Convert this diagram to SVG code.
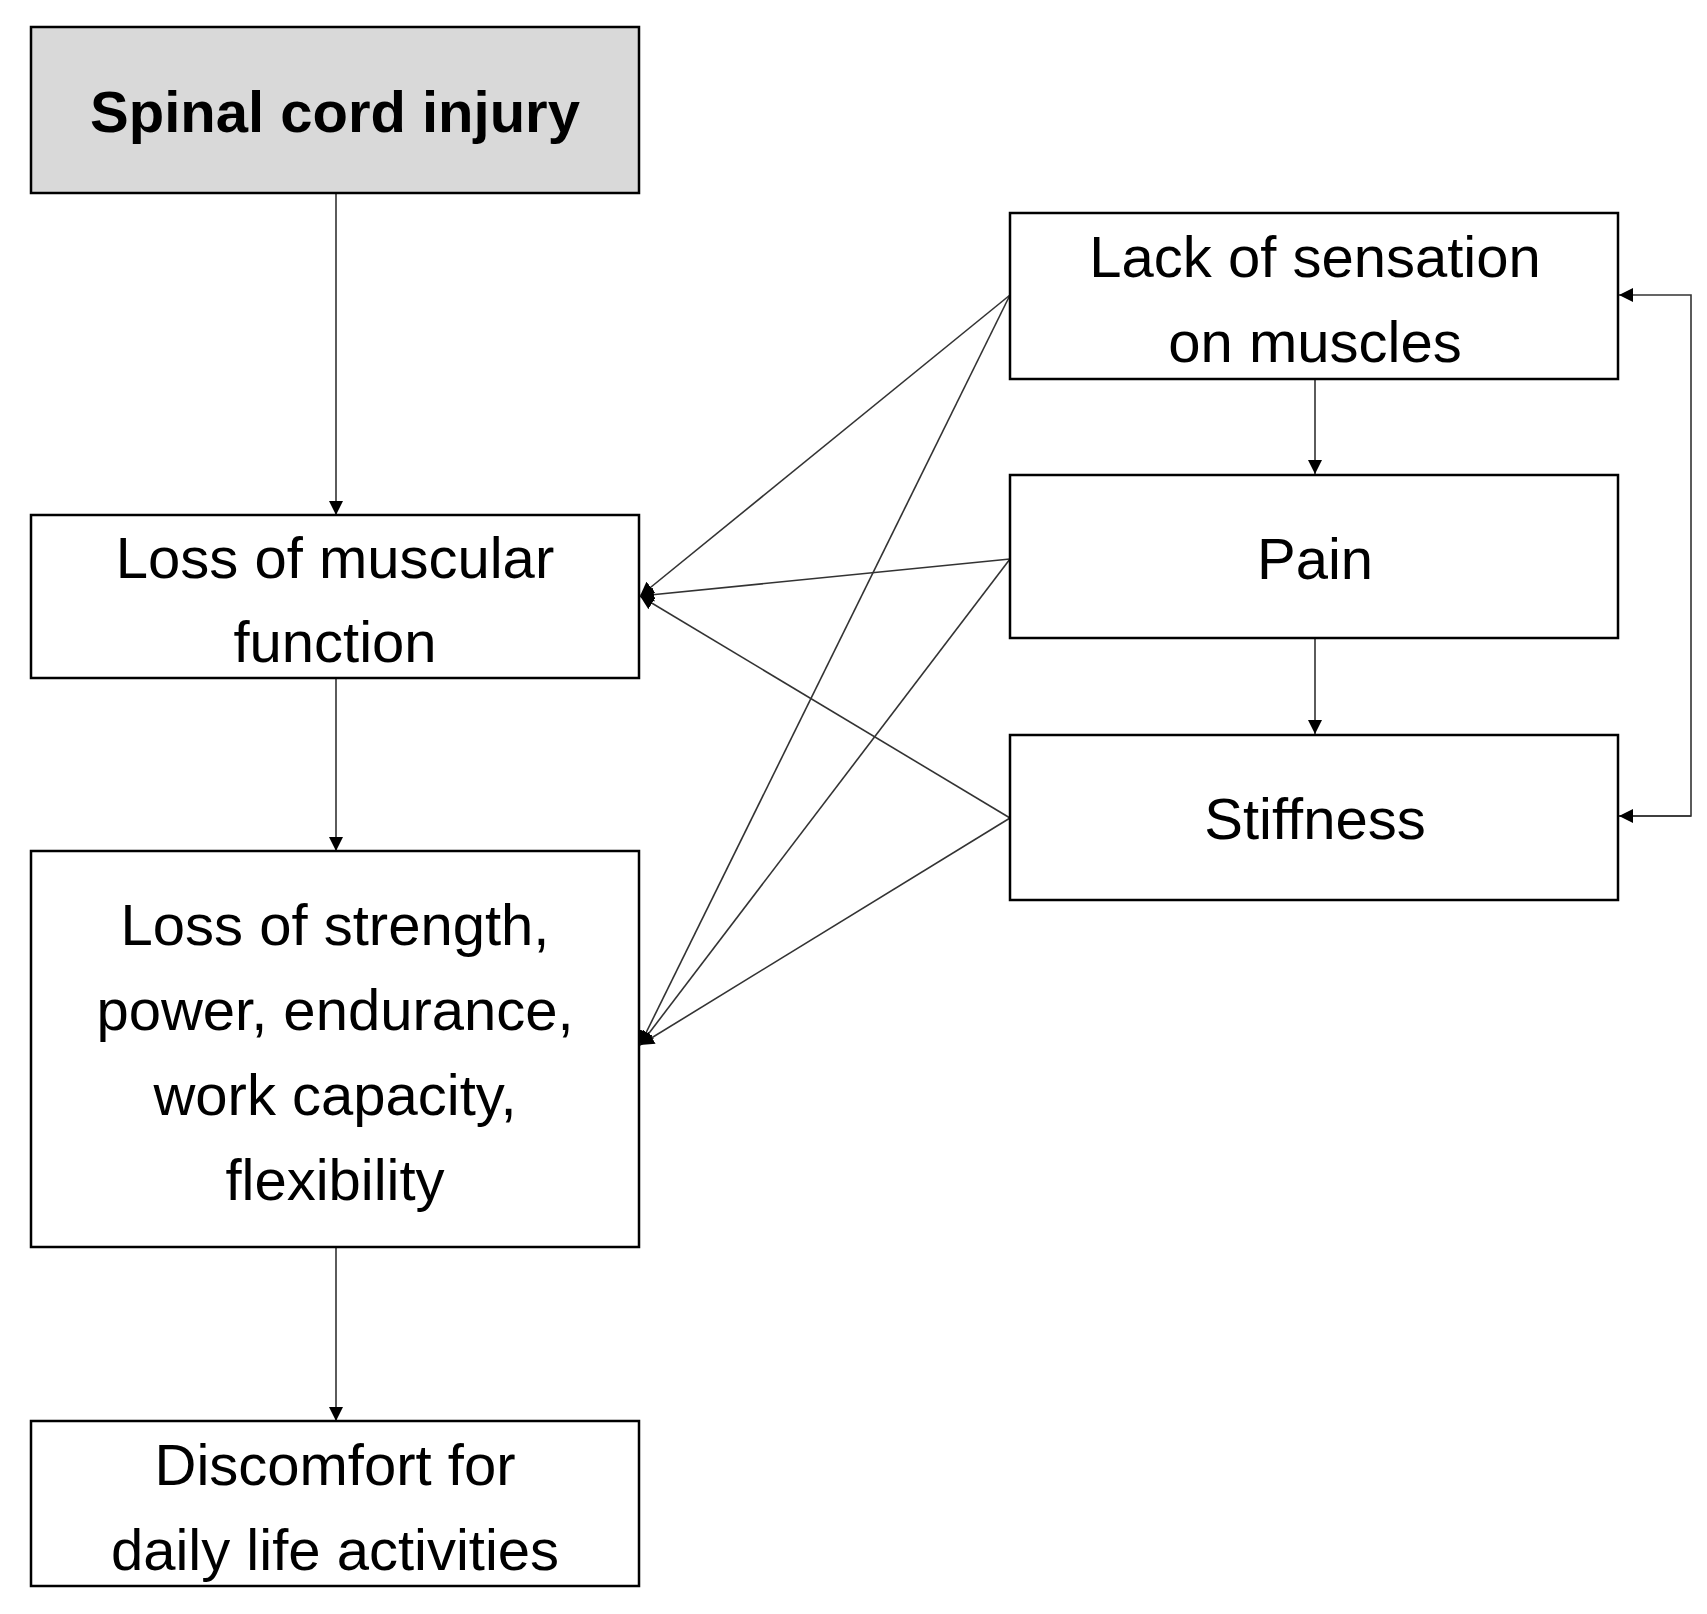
<svg xmlns="http://www.w3.org/2000/svg" width="1707" height="1614" viewBox="0 0 1707 1614">
<style>
.b{fill:#fff;stroke:#000;stroke-width:2.5}
.t{font-family:"Liberation Sans",Arial,sans-serif;font-size:58px;text-anchor:middle;fill:#000}
.c{stroke:#333;stroke-width:1.6;fill:none}
</style>
<defs>
<marker id="a" viewBox="0 0 10 10" refX="10" refY="5" markerWidth="8" markerHeight="8" markerUnits="userSpaceOnUse" orient="auto-start-reverse"><path d="M0,0L10,5L0,10z" fill="#000"/></marker>
<marker id="a2" viewBox="0 0 10 10" refX="10" refY="5" markerWidth="14" markerHeight="14" markerUnits="userSpaceOnUse" orient="auto"><path d="M0,0L10,5L0,10z" fill="#000"/></marker>
</defs>
<rect width="1707" height="1614" fill="#fff"/>
<g id="connectors">
<path class="c" d="M336,193V515" marker-end="url(#a2)"/>
<path class="c" d="M336,678V851" marker-end="url(#a2)"/>
<path class="c" d="M336,1247V1421" marker-end="url(#a2)"/>
<path class="c" d="M1315,380V474" marker-start="url(#a2)" marker-end="url(#a2)"/>
<path class="c" d="M1315,639V734" marker-start="url(#a2)" marker-end="url(#a2)"/>
<path class="c" d="M1618,816H1691V295H1619" marker-end="url(#a2)"/>
<path class="c" d="M1691,816H1619" marker-end="url(#a2)"/>
<path class="c" d="M1010,295L640,596" marker-end="url(#a2)"/>
<path class="c" d="M1010,559L640,596" marker-end="url(#a2)"/>
<path class="c" d="M1010,818L640,596" marker-end="url(#a2)"/>
<path class="c" d="M1010,295L640,1045" marker-end="url(#a2)"/>
<path class="c" d="M1010,559L640,1045" marker-end="url(#a2)"/>
<path class="c" d="M1010,818L640,1045" marker-end="url(#a2)"/>
</g>
<g id="sci"><rect class="b" x="31" y="27" width="608" height="166" style="fill:#d9d9d9"/><text class="t" x="335" y="132" font-weight="bold">Spinal cord injury</text></g>
<g id="lmf"><rect class="b" x="31" y="515" width="608" height="163"/><text class="t" x="335" y="578">Loss of muscular</text><text class="t" x="335" y="662">function</text></g>
<g id="lsp"><rect class="b" x="31" y="851" width="608" height="396"/><text class="t" x="335" y="945">Loss of strength,</text><text class="t" x="335" y="1030">power, endurance,</text><text class="t" x="335" y="1115">work capacity,</text><text class="t" x="335" y="1200">flexibility</text></g>
<g id="dis"><rect class="b" x="31" y="1421" width="608" height="165"/><text class="t" x="335" y="1485">Discomfort for</text><text class="t" x="335" y="1570">daily life activities</text></g>
<g id="lack"><rect class="b" x="1010" y="213" width="608" height="166"/><text class="t" x="1315" y="277">Lack of sensation</text><text class="t" x="1315" y="362">on muscles</text></g>
<g id="pain"><rect class="b" x="1010" y="475" width="608" height="163"/><text class="t" x="1315" y="579">Pain</text></g>
<g id="stiff"><rect class="b" x="1010" y="735" width="608" height="165"/><text class="t" x="1315" y="839">Stiffness</text></g>
</svg>
